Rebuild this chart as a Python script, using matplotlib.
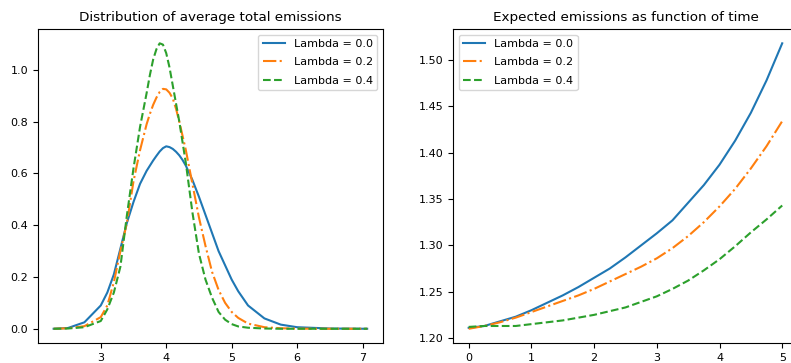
import matplotlib
matplotlib.use("Agg")
import matplotlib.pyplot as plt

# left panel: density of average total emissions
x_emis = [2.28, 2.5, 2.75, 3.0, 3.1, 3.2, 3.3, 3.4, 3.5, 3.6, 3.7, 3.75, 3.8, 3.85,
          3.9, 3.95, 4.0, 4.05, 4.1, 4.15, 4.2, 4.25, 4.3, 4.4, 4.5, 4.6, 4.7, 4.8,
          4.9, 5.0, 5.1, 5.25, 5.5, 5.75, 6.0, 6.5, 7.07]
dens_l00 = [0.0, 0.003, 0.025, 0.09, 0.14, 0.21, 0.31, 0.41, 0.49, 0.56, 0.61, 0.63,
            0.65, 0.668, 0.685, 0.698, 0.705, 0.702, 0.695, 0.684, 0.67, 0.652, 0.63,
            0.575, 0.51, 0.44, 0.37, 0.30, 0.245, 0.19, 0.145, 0.09, 0.04, 0.016,
            0.006, 0.001, 0.0]
dens_l02 = [0.0, 0.002, 0.01, 0.045, 0.09, 0.18, 0.30, 0.41, 0.57, 0.69, 0.79, 0.83,
            0.865, 0.893, 0.915, 0.927, 0.925, 0.912, 0.89, 0.85, 0.80, 0.745, 0.69,
            0.56, 0.43, 0.32, 0.22, 0.15, 0.10, 0.065, 0.042, 0.02, 0.006, 0.002,
            0.0005, 0.0, 0.0]
dens_l04 = [0.0, 0.001, 0.006, 0.03, 0.075, 0.14, 0.24, 0.44, 0.62, 0.78, 0.91, 0.98,
            1.04, 1.08, 1.103, 1.098, 1.065, 1.01, 0.94, 0.87, 0.80, 0.72, 0.64,
            0.45, 0.29, 0.19, 0.12, 0.065, 0.035, 0.018, 0.009, 0.004, 0.001, 0.0,
            0.0, 0.0, 0.0]

# right panel: expected emissions over time
t = [0, 0.25, 0.5, 0.75, 1.0, 1.25, 1.5, 1.75, 2.0, 2.25, 2.5, 2.75, 3.0, 3.25,
     3.5, 3.75, 4.0, 4.25, 4.5, 4.75, 5.0]
exp_l00 = [1.211, 1.213, 1.218, 1.223, 1.230, 1.238, 1.246, 1.255, 1.265, 1.275,
           1.287, 1.300, 1.313, 1.327, 1.346, 1.365, 1.387, 1.413, 1.443, 1.478, 1.518]
exp_l02 = [1.210, 1.213, 1.217, 1.222, 1.228, 1.234, 1.240, 1.246, 1.253, 1.261,
           1.269, 1.277, 1.286, 1.297, 1.310, 1.325, 1.342, 1.361, 1.383, 1.407, 1.434]
exp_l04 = [1.212, 1.213, 1.213, 1.213, 1.215, 1.217, 1.219, 1.222, 1.225, 1.229,
           1.233, 1.239, 1.245, 1.253, 1.262, 1.273, 1.285, 1.299, 1.314, 1.328, 1.343]

labels = ["Lambda = 0.0", "Lambda = 0.2", "Lambda = 0.4"]
styles = ["-", "-.", "--"]

fig = plt.figure(figsize=(7.91, 3.63), dpi=100)
ax1 = fig.add_axes([0.048, 0.055, 0.436, 0.865])
ax2 = fig.add_axes([0.5727, 0.055, 0.436, 0.865])

for y, lab, ls in zip([dens_l00, dens_l02, dens_l04], labels, styles):
    ax1.plot(x_emis, y, ls, label=lab)
ax1.set_title("Distribution of average total emissions", fontsize=9.7)
ax1.legend(loc="upper right", fontsize=8, labelspacing=0.75)
ax1.tick_params(labelsize=8)

for y, lab, ls in zip([exp_l00, exp_l02, exp_l04], labels, styles):
    ax2.plot(t, y, ls, label=lab)
ax2.set_title("Expected emissions as function of time", fontsize=9.7)
ax2.legend(loc="upper left", fontsize=8, labelspacing=0.75)
ax2.tick_params(labelsize=8)

fig.savefig("out.png", dpi=100)
